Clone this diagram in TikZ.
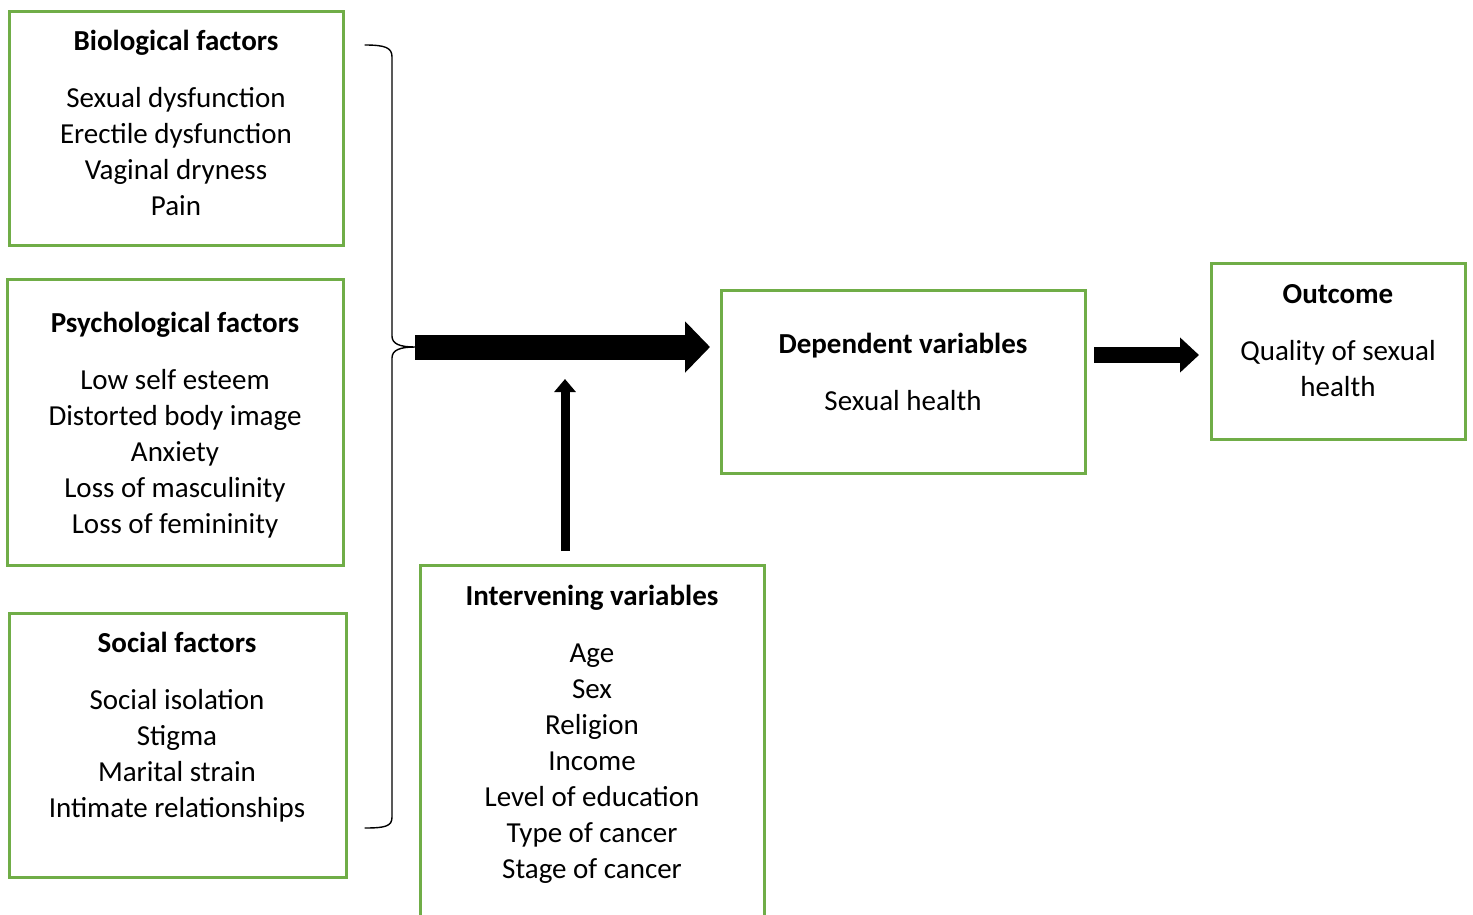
\documentclass[tikz,border=0pt]{standalone}
\usepackage{fontspec}
\setmainfont{Carlito}
\usetikzlibrary{arrows.meta}
\definecolor{boxgreen}{HTML}{70AD47}
\tikzset{
  gbox/.style={draw=boxgreen, line width=3pt, fill=none, inner sep=0pt, outer sep=0pt},
  txt/.style={align=center, anchor=north, font=\fontsize{29}{36}\selectfont, inner sep=0pt},
  bigarrow/.style={line width=25pt, -{Triangle[length=25pt,width=50pt]}},
  midarrow/.style={line width=16pt, -{Triangle[length=19pt,width=34pt]}},
  thinarrow/.style={line width=9pt, -{Triangle[length=13pt,width=21pt]}},
  bracket/.style={line width=1.4pt, line cap=round}
}
\begin{document}
\begin{tikzpicture}[x=1pt,y=-1pt]
\useasboundingbox (0,0) rectangle (1473,914);
% boxes
\node[gbox, minimum width=334pt, minimum height=234pt, anchor=north west] (bio) at (9,11) {};
\node[gbox, minimum width=336pt, minimum height=286pt, anchor=north west] (psy) at (7,279) {};
\node[gbox, minimum width=337pt, minimum height=264pt, anchor=north west] (soc) at (9,613) {};
\draw[gbox] (420,918) -- (420,565) -- (764,565) -- (764,918);
\node[inner sep=0pt, outer sep=0pt, minimum width=344pt, minimum height=1pt, anchor=north] (int) at (592,565) {};
\node[gbox, minimum width=364pt, minimum height=183pt, anchor=north west] (dep) at (721,290) {};
\node[gbox, minimum width=254pt, minimum height=176pt, anchor=north west] (out) at (1211,263) {};
% texts
\node[txt] (biot) at (176,30) {\textbf{Biological factors}\\[21pt]Sexual dysfunction\\Erectile dysfunction\\Vaginal dryness\\Pain};
\node[txt] (psyt) at (175,312) {\textbf{Psychological factors}\\[21pt]Low self esteem\\Distorted body image\\Anxiety\\Loss of masculinity\\Loss of femininity};
\node[txt] (soct) at (177,632) {\textbf{Social factors}\\[21pt]Social isolation\\Stigma\\Marital strain\\Intimate relationships};
\node[txt] (intt) at (592,585) {\textbf{Intervening variables}\\[21pt]Age\\Sex\\Religion\\Income\\Level of education\\Type of cancer\\Stage of cancer};
\node[txt] (dept) at (903,333) {\textbf{Dependent variables}\\[21pt]Sexual health};
\node[txt] (outt) at (1338,284) {\textbf{Outcome}\\[21pt]Quality of sexual\\health};
% bracket
\coordinate (cusp) at (415,347);
\draw[bracket] (365,45) .. controls (386,45) and (392,48) .. (392,57) -- (392,336)
  .. controls (392,344) and (400,347) .. (cusp)
  .. controls (400,347) and (392,350) .. (392,358) -- (392,817)
  .. controls (392,826) and (386,828) .. (365,828);
% arrows
\draw[bigarrow, shorten >=11pt] (cusp) -- (dep.west |- cusp);
\coordinate (vtop) at (565,379);
\draw[thinarrow, shorten <=14pt] (int.north -| vtop) -- (vtop);
\draw[midarrow, shorten <=9pt, shorten >=12pt] (dep.east |- 0,355) -- (out.west |- 0,355);
\end{tikzpicture}
\end{document}
